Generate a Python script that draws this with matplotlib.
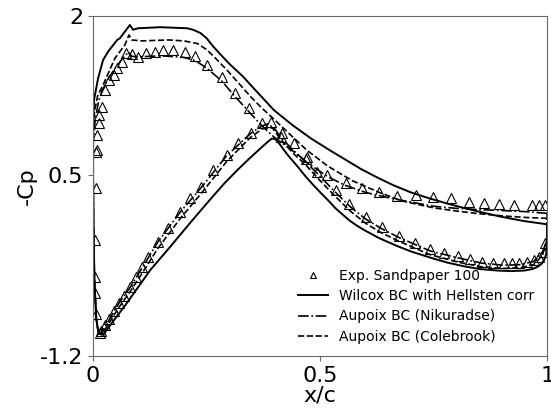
import numpy as np
import matplotlib
matplotlib.use("Agg")
import matplotlib.pyplot as plt

plt.rcParams["axes.unicode_minus"] = False

# experiment (open triangles), upper then lower surface
exp_x = [0.007, 0.008, 0.009, 0.012, 0.014, 0.019, 0.026, 0.036, 0.045, 0.052, 0.063, 0.073,
         0.085, 0.098, 0.117, 0.137, 0.155, 0.177, 0.202, 0.225, 0.251, 0.283, 0.312, 0.343,
         0.372, 0.417, 0.442, 0.472, 0.516, 0.556, 0.593, 0.63, 0.67, 0.711, 0.749, 0.788,
         0.827, 0.862, 0.895, 0.926, 0.967, 0.982, 0.996,
         0.007, 0.005, 0.005, 0.005, 0.007, 0.015,
         0.018, 0.026, 0.035, 0.046, 0.057, 0.068, 0.082, 0.095, 0.108, 0.121, 0.142, 0.166,
         0.191, 0.214, 0.238, 0.264, 0.294, 0.319, 0.347, 0.391, 0.413, 0.468, 0.494, 0.534,
         0.564, 0.600, 0.637, 0.674, 0.709, 0.742, 0.773, 0.803, 0.831, 0.856, 0.881, 0.904,
         0.923, 0.939, 0.955, 0.970, 0.983, 0.992, 0.996]
exp_y = [0.381, 0.739, 0.88, 0.993, 1.068, 1.146, 1.304, 1.398, 1.445, 1.508, 1.57, 1.649,
         1.642, 1.611, 1.649, 1.664, 1.68, 1.68, 1.664, 1.624, 1.539, 1.423, 1.272, 1.131,
         0.99, 0.896, 0.802, 0.676, 0.504, 0.425, 0.378, 0.346, 0.306, 0.315, 0.299, 0.284,
         0.252, 0.237, 0.231, 0.221, 0.221, 0.221, 0.221,
         0.723, -0.108, -0.454, -0.61, -0.8, -0.986,
         -0.965, -0.908, -0.852, -0.776, -0.701, -0.631, -0.546, -0.456, -0.362, -0.266, -0.124, 0.002,
         0.158, 0.284, 0.393, 0.551, 0.692, 0.808, 0.902, 1.005, 0.861, 0.657, 0.532, 0.36,
         0.235, 0.111, 0.011, -0.071, -0.139, -0.196, -0.228, -0.259, -0.29, -0.312, -0.327, -0.327,
         -0.322, -0.322, -0.312, -0.296, -0.265, -0.218, -0.139]

# Wilcox BC with Hellsten corr (solid)
wil_up_x = [0.0, 0.002, 0.011, 0.022, 0.033, 0.053, 0.059, 0.081, 0.088, 0.099, 0.148, 0.207,
            0.22, 0.236, 0.25, 0.265, 0.28, 0.30, 0.331, 0.36, 0.398, 0.44, 0.479, 0.52,
            0.553, 0.59, 0.626, 0.66, 0.70, 0.74, 0.78, 0.82, 0.854, 0.90, 0.95, 1.0]
wil_up_y = [0.97, 1.21, 1.414, 1.586, 1.664, 1.774, 1.79, 1.915, 1.87, 1.884, 1.894, 1.884,
            1.87, 1.84, 1.79, 1.71, 1.64, 1.55, 1.426, 1.29, 1.115, 0.97, 0.85, 0.74,
            0.655, 0.56, 0.48, 0.41, 0.34, 0.285, 0.235, 0.19, 0.155, 0.11, 0.07, 0.04]
wil_lo_x = [0.0, 0.001, 0.003, 0.007, 0.012, 0.022, 0.045, 0.071, 0.126, 0.17, 0.214, 0.254,
            0.288, 0.32, 0.347, 0.37, 0.383, 0.393, 0.40, 0.41, 0.42, 0.431, 0.45, 0.468,
            0.487, 0.505, 0.52, 0.534, 0.55, 0.565, 0.58, 0.597, 0.63, 0.67, 0.70, 0.744,
            0.78, 0.817, 0.85, 0.891, 0.92, 0.95, 0.968, 0.979, 0.988, 0.994, 0.998, 1.0, 1.0]
wil_lo_y = [0.5, 0.0, -0.5, -0.85, -0.99, -1.0, -0.867, -0.72, -0.39, -0.17, 0.055, 0.255,
            0.42, 0.56, 0.67, 0.76, 0.81, 0.845, 0.845, 0.80, 0.74, 0.68, 0.585, 0.49,
            0.40, 0.32, 0.255, 0.19, 0.13, 0.075, 0.03, -0.014, -0.09, -0.165, -0.215, -0.275,
            -0.32, -0.355, -0.38, -0.395, -0.40, -0.395, -0.38, -0.36, -0.33, -0.29, -0.24, -0.15, 0.04]

# Aupoix BC (Nikuradse) (dash-dot)
nik_up_x = [0.0, 0.004, 0.012, 0.02, 0.035, 0.05, 0.065, 0.078, 0.085, 0.1, 0.15, 0.2,
            0.225, 0.25, 0.283, 0.312, 0.343, 0.372, 0.40, 0.44, 0.47, 0.516, 0.553, 0.6,
            0.64, 0.68, 0.75, 0.8, 0.85, 0.9, 0.95, 1.0]
nik_up_y = [0.8, 1.0, 1.2, 1.3, 1.42, 1.52, 1.6, 1.66, 1.62, 1.615, 1.625, 1.61,
            1.58, 1.51, 1.39, 1.245, 1.1, 0.965, 0.855, 0.73, 0.625, 0.49, 0.41, 0.34,
            0.30, 0.265, 0.21, 0.19, 0.178, 0.17, 0.16, 0.143]
nik_lo_x = [0.0, 0.001, 0.003, 0.007, 0.012, 0.02, 0.035, 0.057, 0.082, 0.108, 0.142, 0.191,
            0.238, 0.294, 0.347, 0.372, 0.385, 0.40, 0.413, 0.44, 0.468, 0.50, 0.534, 0.565,
            0.6, 0.635, 0.674, 0.742, 0.803, 0.856, 0.904, 0.939, 0.97, 0.99, 1.0, 1.0]
nik_lo_y = [0.5, 0.0, -0.5, -0.85, -0.99, -0.97, -0.86, -0.70, -0.55, -0.37, -0.13, 0.15,
            0.385, 0.685, 0.895, 0.965, 0.985, 0.94, 0.86, 0.74, 0.63, 0.49, 0.34, 0.21,
            0.09, 0.0, -0.085, -0.21, -0.275, -0.325, -0.345, -0.34, -0.31, -0.22, -0.1, 0.143]

# Aupoix BC (Colebrook) (dashed)
col_up_x = [0.0, 0.003, 0.010, 0.022, 0.048, 0.07, 0.079, 0.085, 0.107, 0.166, 0.20, 0.23,
            0.251, 0.27, 0.295, 0.32, 0.347, 0.37, 0.398, 0.43, 0.47, 0.516, 0.571, 0.63,
            0.68, 0.75, 0.8, 0.85, 0.9, 0.95, 1.0]
col_up_y = [0.9, 1.1, 1.25, 1.351, 1.602, 1.727, 1.821, 1.774, 1.765, 1.774, 1.765, 1.74,
            1.68, 1.60, 1.49, 1.37, 1.24, 1.14, 1.03, 0.90, 0.74, 0.59, 0.45, 0.34,
            0.26, 0.195, 0.165, 0.14, 0.12, 0.105, 0.096]
col_lo_x = [0.0, 0.001, 0.003, 0.007, 0.012, 0.02, 0.035, 0.057, 0.082, 0.108, 0.142, 0.191,
            0.238, 0.294, 0.347, 0.372, 0.385, 0.395, 0.413, 0.44, 0.468, 0.50, 0.534, 0.565,
            0.6, 0.635, 0.674, 0.742, 0.803, 0.856, 0.904, 0.939, 0.97, 0.99, 1.0, 1.0]
col_lo_y = [0.5, 0.0, -0.5, -0.85, -0.99, -0.99, -0.89, -0.74, -0.59, -0.42, -0.19, 0.09,
            0.33, 0.63, 0.86, 0.935, 0.955, 0.945, 0.84, 0.71, 0.60, 0.45, 0.30, 0.17,
            0.05, -0.04, -0.12, -0.245, -0.315, -0.36, -0.375, -0.37, -0.34, -0.25, -0.1, 0.096]

xticks = [0, 0.5, 1]
xticklabels = ["0", "0.5", "1"]
yticks = [-1.2, 0.5, 2]
yticklabels = ["-1.2", "0.5", "2"]


def loop(ux, uy, lx, ly):
    # upper surface TE->LE, then lower surface LE->TE
    return list(ux[::-1]) + list(lx), list(uy[::-1]) + list(ly)


fig = plt.figure(figsize=(5.51, 4.19), dpi=100)
ax = fig.add_axes([0.169, 0.150, 0.824, 0.812])

ax.plot(exp_x, exp_y, linestyle="none", marker="^", markersize=7, markerfacecolor="none",
        markeredgecolor="black", markeredgewidth=0.8, label="Exp. Sandpaper 100")
x, y = loop(wil_up_x, wil_up_y, wil_lo_x, wil_lo_y)
ax.plot(x, y, "k-", lw=1.4, label="Wilcox BC with Hellsten corr")
x, y = loop(nik_up_x, nik_up_y, nik_lo_x, nik_lo_y)
ax.plot(x, y, "k-.", lw=1.2, label="Aupoix BC (Nikuradse)")
x, y = loop(col_up_x, col_up_y, col_lo_x, col_lo_y)
ax.plot(x, y, "k--", lw=1.2, label="Aupoix BC (Colebrook)")

ax.set_xlim(0, 1)
ax.set_ylim(-1.2, 2)
ax.set_xticks(xticks)
ax.set_xticklabels(xticklabels)
ax.set_yticks(yticks)
ax.set_yticklabels(yticklabels)
ax.tick_params(labelsize=16, color="dimgray")
for s in ax.spines.values():
    s.set_color("dimgray")
ax.set_xlabel("x/c", fontsize=16, labelpad=0)
ax.set_ylabel("-Cp", fontsize=16, labelpad=2)

leg = ax.legend(loc="lower right", frameon=False, fontsize=10, markerscale=0.7,
                handlelength=2.2, labelspacing=0.45, bbox_to_anchor=(1.0, 0.0))

fig.savefig("out.png", dpi=100)
